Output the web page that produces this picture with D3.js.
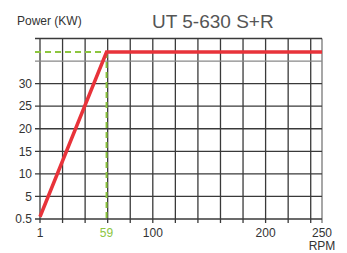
<!DOCTYPE html>
<html>
<head>
<meta charset="utf-8">
<script src="https://cdn.jsdelivr.net/npm/d3@7"></script>
<style>
  body { margin: 0; background: #fff; }
  svg { display: block; font-family: 'Liberation Sans', Arial, sans-serif; }
</style>
</head>
<body>
<div id="graf"></div>
<script>
// data
const rpm = [1, 59, 250]
const power = [0.5, 37, 37]
const xTickLabels = [1, 59, 100, 200, 250]
const yTickValues = [0, 5, 10, 15, 20, 25, 30]
const yTickLabels = ['0.5', '5', '10', '15', '20', '25', '30']
const baseRpm = 59
const maxPower = 37

const anchoTotal = 347
const altoTotal = 253
const margin = { top: 38.5, right: 25, bottom: 34, left: 40 }
const ancho = anchoTotal - margin.left - margin.right
const alto = altoTotal - margin.top - margin.bottom

const svg = d3.select('#graf')
  .append('svg')
  .attr('width', anchoTotal)
  .attr('height', altoTotal)

const g = svg.append('g')
  .attr('transform', `translate(${margin.left}, ${margin.top})`)

const x = d3.scaleLinear().domain([0, 250]).range([0, ancho])
const y = d3.scaleLinear().domain([0, 40]).range([alto, 0])

const gridColor = '#3a3a3a'

// vertical grid, every 20 rpm, plus the right edge
const xGrid = d3.range(0, 250, 20).concat([250])
g.selectAll('.vgrid')
  .data(xGrid)
  .join('line')
  .attr('x1', (d) => x(d)).attr('x2', (d) => x(d))
  .attr('y1', 0).attr('y2', alto + 4)
  .attr('stroke', (d) => (d === 250 ? '#777' : gridColor))
  .attr('stroke-width', 1.3)

// horizontal grid, every 5 kW
const yGrid = d3.range(0, 45, 5)
g.selectAll('.hgrid')
  .data(yGrid)
  .join('line')
  .attr('x1', -5).attr('x2', ancho)
  .attr('y1', (d) => y(d)).attr('y2', (d) => y(d))
  .attr('stroke', (d) => (d === 35 ? '#888' : gridColor))
  .attr('stroke-width', 1.3)

// y labels
g.selectAll('.ylab')
  .data(yTickValues)
  .join('text')
  .attr('x', -8)
  .attr('y', (d) => y(d))
  .attr('dy', '0.35em')
  .attr('text-anchor', 'end')
  .attr('font-size', 12)
  .attr('fill', '#333')
  .text((d, i) => yTickLabels[i])

// x labels
g.selectAll('.xlab')
  .data(xTickLabels)
  .join('text')
  .attr('x', (d) => (d === 1 ? x(0) : x(d)))
  .attr('y', alto + 18)
  .attr('text-anchor', 'middle')
  .attr('font-size', 12)
  .attr('fill', (d) => (d === baseRpm ? '#8dc63f' : '#333'))
  .text((d) => d)

g.append('text')
  .attr('x', x(250))
  .attr('y', alto + 30.5)
  .attr('text-anchor', 'middle')
  .attr('font-size', 12)
  .attr('fill', '#333')
  .text('RPM')

// green dashed guide lines
const green = '#8dc63f'
g.append('line')
  .attr('x1', -5).attr('x2', x(baseRpm))
  .attr('y1', y(maxPower)).attr('y2', y(maxPower))
  .attr('stroke', green).attr('stroke-width', 2)
  .attr('stroke-dasharray', '6,4')
g.append('line')
  .attr('x1', x(baseRpm)).attr('x2', x(baseRpm))
  .attr('y1', y(maxPower)).attr('y2', alto)
  .attr('stroke', green).attr('stroke-width', 2)
  .attr('stroke-dasharray', '6,4')

// power curve
const datos = rpm.map((r, i) => ({ r: r, p: power[i] }))
const generadorLinea = d3.line()
  .x((d) => x(d.r === 1 ? 0 : d.r))
  .y((d) => y(d.p))
g.append('path')
  .attr('d', generadorLinea(datos))
  .attr('fill', 'none')
  .attr('stroke', '#e8333a')
  .attr('stroke-width', 3.5)

// titles
svg.append('text')
  .attr('x', 17).attr('y', 25)
  .attr('font-size', 12)
  .attr('fill', '#333')
  .text('Power (KW)')

svg.append('text')
  .attr('x', 152).attr('y', 28)
  .attr('font-size', 19)
  .attr('fill', '#555')
  .text('UT 5-630 S+R')
</script>
</body>
</html>
